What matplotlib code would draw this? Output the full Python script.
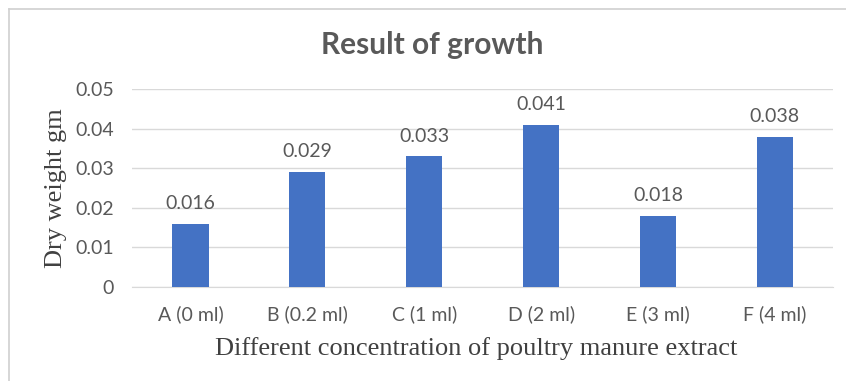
import matplotlib
matplotlib.use("Agg")
import matplotlib.pyplot as plt
from matplotlib.lines import Line2D

# データ
categories = ["A (0 ml)", "B (0.2 ml)", "C (1 ml)", "D (2 ml)", "E (3 ml)", "F (4 ml)"]
dryWeight = [0.016, 0.029, 0.033, 0.041, 0.018, 0.038]
yTicks = [0, 0.01, 0.02, 0.03, 0.04, 0.05]
yTickLabels = ["0", "0.01", "0.02", "0.03", "0.04", "0.05"]

barColor = "#4472C4"
gridColor = "#D9D9D9"
textColor = "#595959"
sansFont = "Lato"

fig = plt.figure(figsize=(8.46, 3.81), dpi=100)
ax = fig.add_axes([0.156, 0.247, 0.829, 0.519])

x = range(len(categories))
ax.bar(x, dryWeight, width=0.31, color=barColor, zorder=3)
for i, v in enumerate(dryWeight):
    ax.text(i, v + 0.003, str(v), ha="center", va="bottom",
            fontsize=14, color=textColor, family=sansFont)

ax.set_xlim(-0.5, len(categories) - 0.5)
ax.set_ylim(0, 0.05)
ax.set_yticks(yTicks)
ax.set_yticklabels(yTickLabels)
ax.set_xticks(list(x))
ax.set_xticklabels(categories)
ax.tick_params(length=0, labelsize=14, labelcolor=textColor, pad=13)
for lbl in ax.get_xticklabels() + ax.get_yticklabels():
    lbl.set_family(sansFont)
ax.grid(axis="y", color=gridColor, linewidth=1, zorder=0)
for s in ["top", "right", "left"]:
    ax.spines[s].set_visible(False)
ax.spines["bottom"].set_color(gridColor)

# 軸ラベル
fig.text(0.066, 0.507, "Dry weight gm", rotation=90, ha="center", va="center",
         family="Liberation Serif", fontsize=19, color="#404040")
ax.set_xlabel("Different concentration of poultry manure extract",
              family="Liberation Serif", fontsize=19, color="#404040")
ax.xaxis.set_label_coords(0.491, -0.255)

fig.text(0.511, 0.882, "Result of growth", ha="center", va="center",
         fontsize=21.5, fontweight="bold", color=textColor, family=sansFont)

# 外枠
fig.add_artist(Line2D([0.0107, 0.0107], [0.0, 0.976], color="#D0D0D0", linewidth=1.2))
fig.add_artist(Line2D([0.0107, 1.0], [0.976, 0.976], color="#D0D0D0", linewidth=1.2))

fig.savefig("out.png", dpi=100)
